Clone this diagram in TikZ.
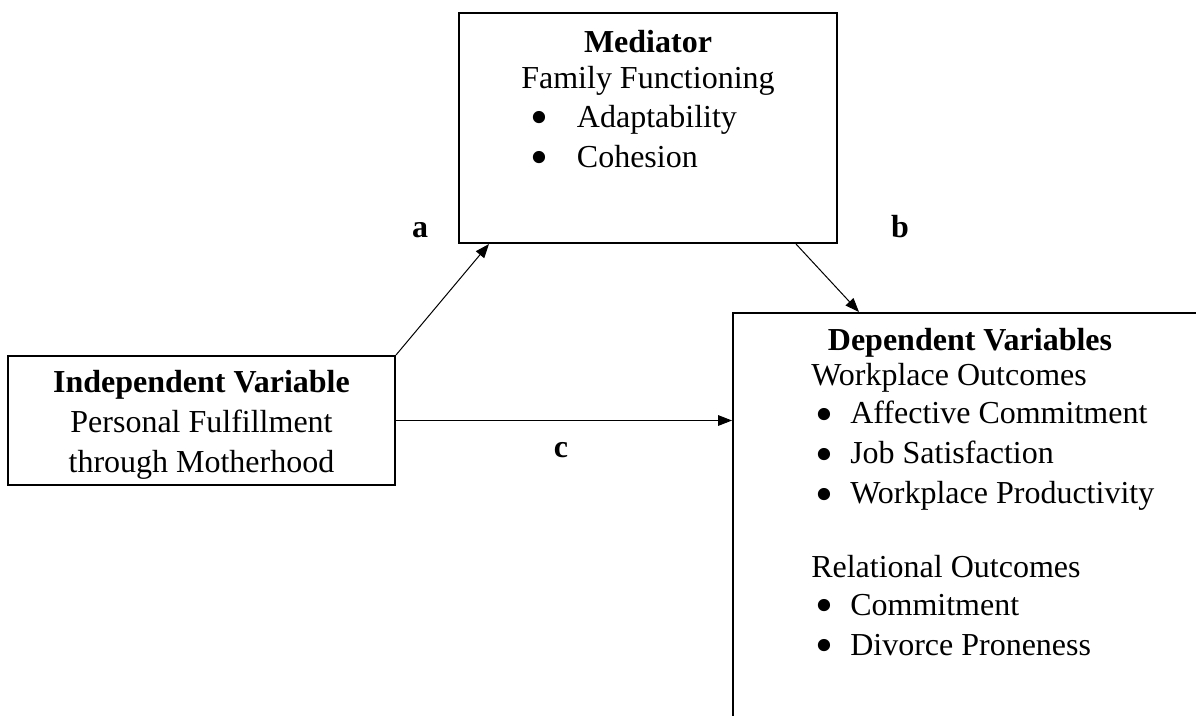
\documentclass[tikz,border=0pt]{standalone}
\usepackage{fontspec}
\setmainfont{Liberation Serif}
\usetikzlibrary{positioning,calc,arrows.meta}

\newcommand{\bigbul}{\smash{\raisebox{-5.5pt}{\scalebox{1.6}{\textbullet}}}}

\tikzset{
    box/.style={draw, line width=1.5pt, inner sep=0pt},
    txt/.style={inner sep=0pt, font=\fontsize{24}{30}\selectfont},
    lbl/.style={inner sep=0pt, anchor=base, font=\fontsize{24}{30}\selectfont\bfseries},
    arr/.style={line width=0.75pt, -{Triangle[length=10.5pt,width=8pt]}}
}

\begin{document}
\begin{tikzpicture}[x=0.75pt, y=-0.75pt]
    \useasboundingbox (0,0) rectangle (1196,715);
    \clip (0,0) rectangle (1196,715);

    % Boxes
    \node [box, minimum width=283.5pt, minimum height=172.5pt] (med) at (648,128) {};
    \node [box, minimum width=290.25pt, minimum height=96.75pt] (ind) at (201.5,420.5) {};
    \node [box, minimum width=450pt, minimum height=375pt] (dep) at (1033,563) {};

    % Mediator text (base = last line)
    \node [txt, anchor=base, align=center] (medtitle) at (648,88) {\textbf{Mediator}\\[-3pt]Family Functioning};
    \node [txt, anchor=base west, align=left] (medlist) at (530,167) {\makebox[35pt][l]{\bigbul}Adaptability\\\makebox[35pt][l]{\bigbul}Cohesion};

    % Independent text
    \node [txt, anchor=base, align=center] (indtext) at (201.5,472) {\textbf{Independent Variable}\\Personal Fulfillment\\through Motherhood};

    % Dependent text
    \node [txt, anchor=base] (deptitle) at (970,350) {\textbf{Dependent Variables}};
    \node [txt, anchor=base west, align=left] (deplist) at (811,655) {Workplace Outcomes\\[-1pt]
        \hspace{3pt}\makebox[26.25pt][l]{\bigbul}Affective Commitment\\
        \hspace{3pt}\makebox[26.25pt][l]{\bigbul}Job Satisfaction\\
        \hspace{3pt}\makebox[26.25pt][l]{\bigbul}Workplace Productivity\\[25pt]
        Relational Outcomes\\[-1.5pt]
        \hspace{3pt}\makebox[26.25pt][l]{\bigbul}Commitment\\
        \hspace{3pt}\makebox[26.25pt][l]{\bigbul}Divorce Proneness};

    % Paths
    \draw [arr] (ind.north east) -- ($(med.south west)+(31,0)$);
    \draw [arr] ($(med.south west)+(338,0)$) -- ($(dep.north west)+(127,0)$);
    \draw [arr] (ind.east) -- (ind.east -| dep.west);

    \node [lbl] (la) at (420,237) {a};
    \node [lbl] (lb) at (900,237) {b};
    \node [lbl] (lc) at (561,457) {c};
\end{tikzpicture}
\end{document}
